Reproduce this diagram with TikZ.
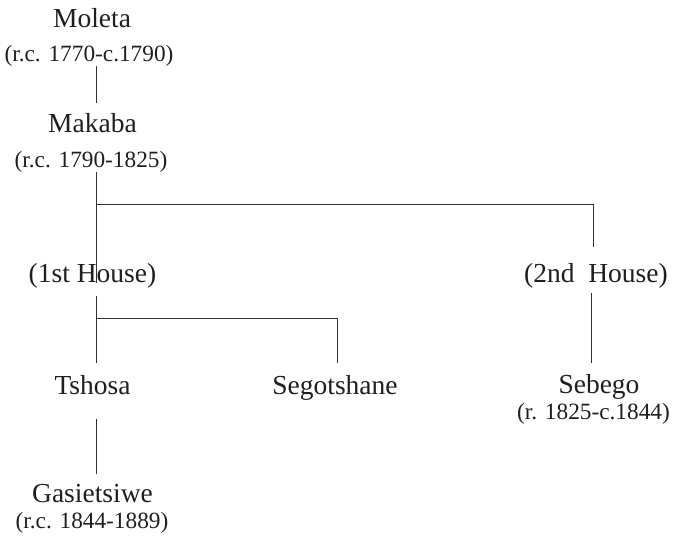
\documentclass[tikz,border=0pt]{standalone}
\usepackage{fontspec}
\setmainfont{Liberation Serif}
\usetikzlibrary{calc}
\tikzset{
  person/.style={inner sep=0pt, anchor=base, text=black!88,
    font=\fontsize{27.5}{30}\selectfont},
  reign/.style={inner sep=0pt, anchor=base, text=black!88,
    font=\fontsize{23.3}{26}\selectfont},
  link/.style={draw=black!80, line width=0.8pt}
}
\begin{document}
\begin{tikzpicture}[x=1pt, y=-1pt]
\useasboundingbox (0,0) rectangle (675,544);

% rulers and their descendants
\node[person] (moleta)  at (92,27)    {Moleta};
\node[reign]  (moletaD) at (89,61)    {(r.c. 1770-c.1790)};
\node[person] (makaba)  at (92.5,132) {Makaba};
\node[reign]  (makabaD) at (91,167)   {(r.c. 1790-1825)};
\node[person] (house1)  at (92.5,282) {(1st House)};
\node[person] (house2)  at (596,282)  {(2nd\ \ House)};
\node[person] (tshosa)  at (92.5,394) {Tshosa};
\node[person] (segot)   at (335,394)  {Segotshane};
\node[person] (sebego)  at (599,393)  {Sebego};
\node[reign]  (sebegoD) at (593.5,419){(r. 1825-c.1844)};
\node[person] (gasi)    at (92.5,502) {Gasietsiwe};
\node[reign]  (gasiD)   at (92,528)   {(r.c. 1844-1889)};

% junction points of the tree
\coordinate (t1) at (96,204);
\coordinate (b2) at (593,204);
\coordinate (t2) at (96,318);
\coordinate (b3) at (337,318);
\coordinate (s2) at (591,300);

% connectors
\draw[link, shorten >=10pt] (moletaD.south -| t1) -- (makaba.north -| t1);
\draw[link] (makabaD.south -| t1) -- ([yshift=-1pt]house1.base -| t1);
\draw[link, shorten >=16pt] (t1) -| (house2.north -| b2);
\draw[link, shorten <=8pt, shorten >=12pt] (house1.south -| t1) -- (tshosa.north -| t1);
\draw[link, shorten >=12pt] (t2) -| (segot.north -| b3);
\draw[link, shorten <=5pt, shorten >=11pt] (house2.south -| s2) -- (sebego.north -| s2);
\draw[link, shorten <=25pt, shorten >=10pt] (tshosa.south -| t1) -- (gasi.north -| t1);
\end{tikzpicture}
\end{document}
